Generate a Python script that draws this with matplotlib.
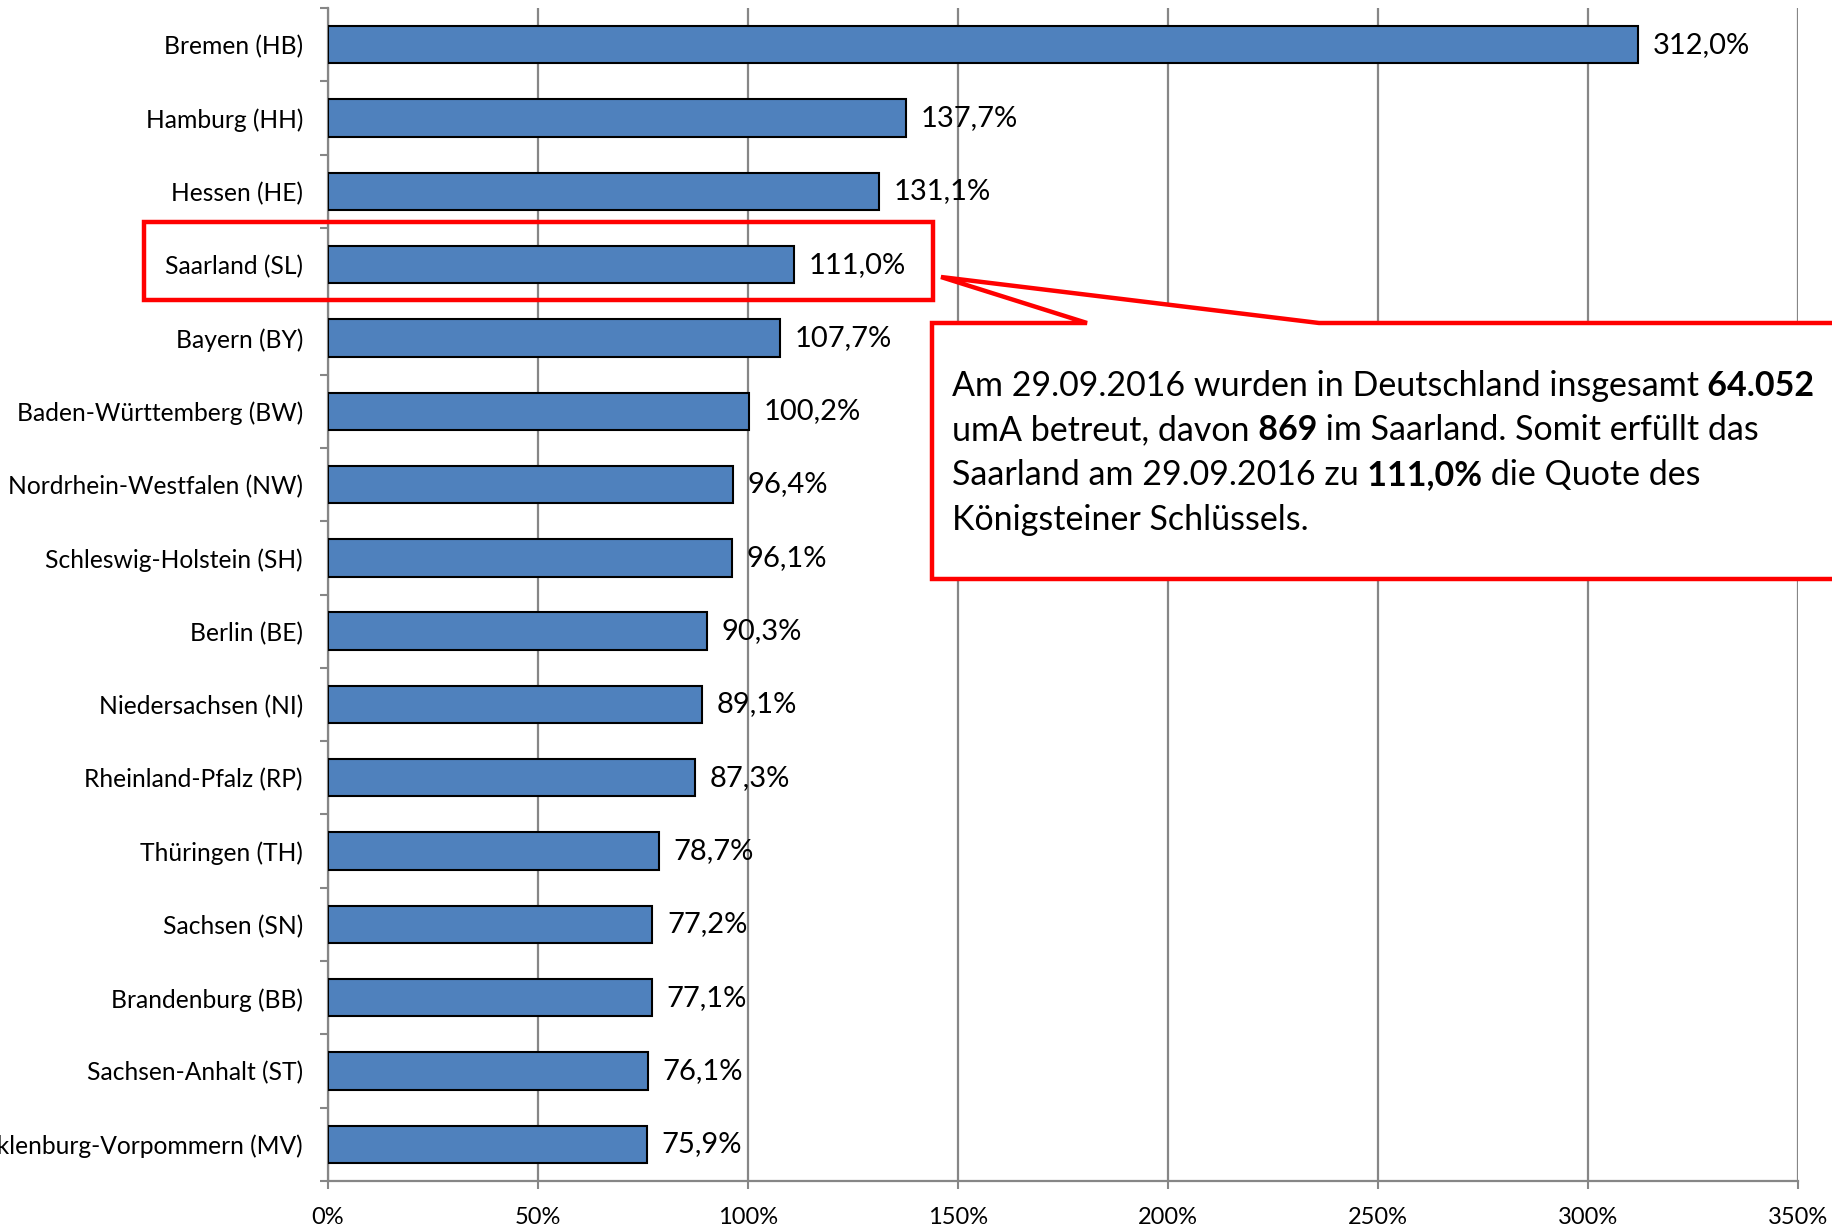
import numpy as np
import matplotlib.pyplot as plt
from matplotlib.patches import Polygon, Rectangle

plt.rcParams['font.family'] = ['Lato', 'DejaVu Sans']

# Daten: Erfüllung Königsteiner Schlüssel (umA), 29.09.2016
laender = ["Bremen (HB)", "Hamburg (HH)", "Hessen (HE)", "Saarland (SL)",
           "Bayern (BY)", "Baden-Württemberg (BW)", "Nordrhein-Westfalen (NW)",
           "Schleswig-Holstein (SH)", "Berlin (BE)", "Niedersachsen (NI)",
           "Rheinland-Pfalz (RP)", "Thüringen (TH)", "Sachsen (SN)",
           "Brandenburg (BB)", "Sachsen-Anhalt (ST)", "Mecklenburg-Vorpommern (MV)"]
quote = [312.0, 137.7, 131.1, 111.0, 107.7, 100.2, 96.4, 96.1, 90.3, 89.1,
         87.3, 78.7, 77.2, 77.1, 76.1, 75.9]
xticks = [0, 50, 100, 150, 200, 250, 300, 350]

W, H = 1833, 1227
fig = plt.figure(figsize=(W / 100, H / 100), dpi=100)
ax = fig.add_axes([328 / W, 1 - 1181 / H, (1798 - 328) / W, (1181 - 8) / H])

y = np.arange(len(laender))
ax.barh(y, quote, height=0.51, color="#4f81bd", edgecolor="black", linewidth=1.5, zorder=3)
for yi, v in zip(y, quote):
    ax.text(v + 3.5, yi, f"{v:.1f}%".replace(".", ","), va="center", ha="left",
            fontsize=21, zorder=4)

ax.set_xlim(0, 350)
ax.set_ylim(len(laender) - 0.5, -0.5)
ax.set_xticks(xticks)
ax.set_xticklabels([f"{t}%" for t in xticks], fontsize=17)
ax.set_yticks(y)
ax.set_yticklabels(laender, fontsize=17.7)
ax.set_yticks(np.arange(-0.5, len(laender)), minor=True)
ax.tick_params(axis="y", which="major", length=0, pad=18)
ax.tick_params(axis="y", which="minor", length=6, width=1.5, color="#868686")
ax.tick_params(axis="x", length=6, width=1.5, color="#868686", pad=13)
ax.grid(axis="x", color="#868686", linewidth=1.6, zorder=0)
for s in ["top", "right"]:
    ax.spines[s].set_visible(False)
for s in ["left", "bottom"]:
    ax.spines[s].set_color("#868686")
    ax.spines[s].set_linewidth(1.6)


def fx(px):
    return px / W


def fy(py):
    return 1 - py / H


# Hervorhebung Saarland
red = "#ff0000"
fig.patches.append(Rectangle((fx(144), fy(300)), fx(933) - fx(144), fy(222) - fy(300),
                             transform=fig.transFigure, fill=False, edgecolor=red,
                             linewidth=3.2, zorder=5))

# Sprechblase
pts = [(932, 323), (1087, 323), (941, 277), (1319, 323), (1900, 323),
       (1900, 579), (932, 579)]
fig.patches.append(Polygon([(fx(a), fy(b)) for a, b in pts], closed=True,
                           transform=fig.transFigure, facecolor="white",
                           edgecolor=red, linewidth=3.2, zorder=5, joinstyle="miter"))

zeilen = [
    [("Am 29.09.2016 wurden in Deutschland insgesamt", "normal"), (" 64.052", "bold")],
    [("umA betreut, davon", "normal"), (" 869", "bold"), (" im Saarland. Somit erfüllt das", "normal")],
    [("Saarland am 29.09.2016 zu", "normal"), (" 111,0%", "bold"), (" die Quote des", "normal")],
    [("Königsteiner Schlüssels.", "normal")],
]
y0 = 386
for i, zeile in enumerate(zeilen):
    prev = None
    for txt, wt in zeile:
        if prev is None:
            prev = fig.text(fx(952), fy(y0 + i * 44.5), txt, fontsize=24.5, fontweight=wt,
                            va="center", ha="left", zorder=6)
        else:
            prev = fig.add_artist(plt.Annotation(txt, xy=(1, 0), xycoords=prev,
                                                 va="bottom", ha="left", fontsize=24.5,
                                                 fontweight=wt, zorder=6))

plt.savefig("out.png", dpi=100)
